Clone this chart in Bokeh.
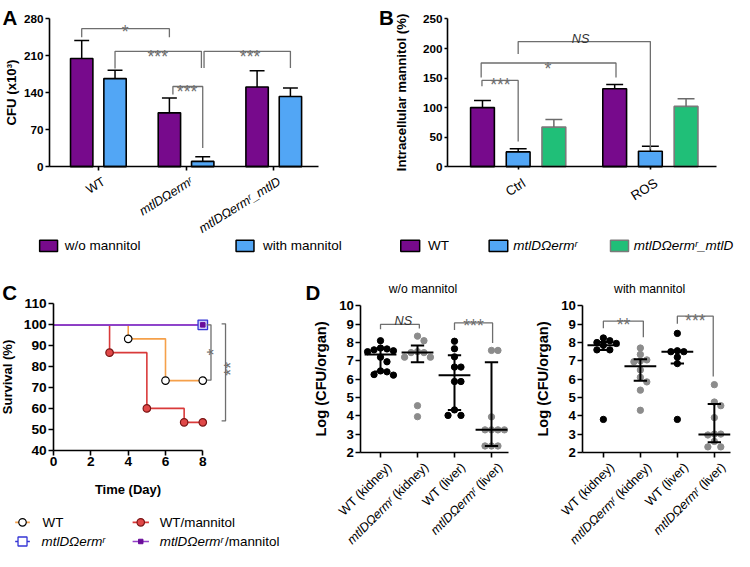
import math
import numpy as np
from bokeh.plotting import figure
from bokeh.models import Range1d, Label, FixedTicker, LinearAxis
from bokeh.layouts import row, column
from bokeh.embed import file_html
from bokeh.resources import INLINE

SX = 734 / 750
SY = 551 / 567
FS = 0.975
FONT = "Liberation Sans"
GRAY = "#6e6e6e"
PURPLE = "#770A8C"
BLUE = "#52A6F5"
GREEN = "#20BF78"
MUT = "mtlDΩermʳ"

# ---------------- data ----------------
strainsA = ["WT", "mtlDΩermʳ", "mtlDΩermʳ_mtlD"]
cfu_wo = [205, 102, 151]
cfu_wo_err = [34, 28, 31]
cfu_with = [167, 10, 133]
cfu_with_err = [16, 9, 16]

condsB = ["Ctrl", "ROS"]
mann_wt = [100, 132]
mann_wt_err = [12, 7]
mann_mut = [25, 26]
mann_mut_err = [5.5, 8.5]
mann_comp = [67, 102]
mann_comp_err = [13, 13]

days_wt = [0, 4, 6, 8]
surv_wt = [100, 93.3, 73.3, 73.3]
days_wtm = [0, 3, 5, 7, 8]
surv_wtm = [100, 86.7, 60, 53.3, 53.3]
days_mut = [0, 8]
surv_mut = [100, 100]
days_mutm = [0, 8]
surv_mutm = [100, 100]

groupsD = ["WT (kidney)", "mtlDΩermʳ (kidney)", "WT (liver)", "mtlDΩermʳ (liver)"]
d_wo = [
    [8.1, 7.7, 7.65, 7.6, 7.55, 7.5, 7.2, 6.95, 6.45, 6.4, 6.25, 6.22],
    [8.35, 8.1, 7.5, 7.45, 7.45, 7.2, 7.2, 4.55, 3.95],
    [8.07, 7.66, 7.22, 6.66, 6.66, 5.87, 5.87, 4.32, 4.02, 4.02],
    [7.57, 7.57, 3.94, 3.23, 3.23, 3.23, 3.23, 2.35, 2.35, 2.35],
]
d_wo_med = [7.35, 7.45, 6.22, 3.23]
d_wo_q1 = [6.42, 6.92, 4.32, 2.35]
d_wo_q3 = [7.66, 7.84, 7.31, 6.92]
d_with = [
    [8.25, 8.1, 8.0, 7.95, 7.85, 7.6, 7.6, 3.8],
    [7.7, 7.35, 7.05, 7.0, 6.95, 6.5, 6.1, 5.85, 5.4, 4.3],
    [8.5, 7.55, 7.5, 7.5, 7.2, 6.85, 3.8],
    [5.7, 4.75, 4.55, 3.9, 3.0, 3.0, 2.95, 2.6, 2.3, 2.3],
]
d_with_med = [7.85, 6.7, 7.5, 2.97]
d_with_q1 = [7.59, 5.91, 6.85, 2.56]
d_with_q3 = [8.03, 7.09, 7.55, 4.64]


# ---------------- helpers ----------------
class Panel:
    """A figure whose frame fills the whole canvas; the axes sit at fixed
    locations so that all surrounding texts live inside the frame."""

    def __init__(self, ox, oy, w, h, fl, fr, ft, fb, xr, yr):
        self.fl, self.fr, self.ft, self.fb = fl, fr, ft, fb
        self.xr, self.yr = xr, yr
        x0 = self.dx(ox / SX)
        x1 = self.dx((ox + w) / SX)
        ytop = self.dy(oy / SY)
        ybot = self.dy((oy + h) / SY)
        self.p = figure(width=w, height=h, x_range=Range1d(x0, x1), y_range=Range1d(ybot, ytop),
                        output_backend="svg", toolbar_location=None,
                        x_axis_location=None, y_axis_location=None,
                        min_border_left=0, min_border_right=0,
                        min_border_top=0, min_border_bottom=0)
        p = self.p
        p.outline_line_color = None
        for g in p.grid:
            g.visible = False
        p.background_fill_color = "white"
        p.border_fill_color = "white"

    def dx(self, rx):
        return self.xr[0] + (rx - self.fl) / (self.fr - self.fl) * (self.xr[1] - self.xr[0])

    def dy(self, ry):
        return self.yr[1] - (ry - self.ft) / (self.fb - self.ft) * (self.yr[1] - self.yr[0])

    def axes(self, xticks, yticks, tick_size, label_size, tick_out=4, lab_standoff=3,
             xbounds=None, ybounds=None, xlabel=None, ylabel=None, x_lab_standoff=None, hide_x=False):
        xb = xbounds if xbounds is not None else self.xr
        yb = ybounds if ybounds is not None else self.yr
        xa = LinearAxis(fixed_location=self.yr[0], bounds=xb, ticker=FixedTicker(ticks=xticks))
        ya = LinearAxis(fixed_location=self.xr[0], bounds=yb, ticker=FixedTicker(ticks=yticks))
        for ax in (xa, ya):
            ax.axis_line_width = 1.6
            ax.axis_line_color = "black"
            ax.major_tick_line_width = 1.6
            ax.major_tick_line_color = "black"
            ax.major_tick_in = 0
            ax.major_tick_out = tick_out
            ax.minor_tick_line_color = None
            ax.major_label_text_font = FONT
            ax.major_label_text_font_style = "bold"
            ax.major_label_text_font_size = f"{tick_size * FS:.1f}px"
            ax.major_label_text_color = "black"
            ax.axis_label_text_font = FONT
            ax.axis_label_text_font_style = "bold"
            ax.axis_label_text_font_size = f"{label_size * FS:.1f}px"
            ax.axis_label_text_color = "black"
            ax.major_label_standoff = 2
            ax.axis_label_standoff = lab_standoff
        if hide_x:
            xa.major_label_overrides = {t: "" for t in xticks}
        if xlabel:
            xa.axis_label = xlabel
        if ylabel:
            ya.axis_label = ylabel
        if x_lab_standoff is not None:
            xa.axis_label_standoff = x_lab_standoff
        self.p.add_layout(xa, "below")
        self.p.add_layout(ya, "left")


def txt(P, rx, ry, text, size, style="normal", align="center", baseline="middle",
        angle=0.0, color="black", x=None, y=None, xo=0.0, yo=0.0):
    P.p.add_layout(Label(
        x=P.dx(rx) if x is None else x,
        y=P.dy(ry) if y is None else y,
        x_offset=xo, y_offset=yo,
        text=text, text_font=FONT, text_font_size=f"{size * FS:.1f}px",
        text_font_style=style, text_align=align, text_baseline=baseline,
        angle=math.radians(angle), angle_units="rad", text_color=color))


def star(P, rx, ry, text, size=18, color=GRAY):
    # ry = visual centre of the asterisks
    txt(P, rx, ry + 0.575 * size, text, size, baseline="alphabetic", color=color)


def caps(P, rx, ry, text, size, style="normal", color="black", align="center"):
    txt(P, rx, ry + 0.36 * size, text, size, style=style, baseline="alphabetic", color=color, align=align)


def bracket(p, x1, x2, top, l1, l2):
    p.line(x=[x1, x1, x2, x2], y=[l1, top, top, l2], line_color=GRAY, line_width=1.3)


def errbars(p, xs, tops, errs, half, color="black"):
    xs = np.asarray(xs, float)
    tops = np.asarray(tops, float)
    ends = tops + np.asarray(errs, float)
    p.segment(x0=xs, y0=tops, x1=xs, y1=ends, line_color=color, line_width=1.5)
    p.segment(x0=xs - half, y0=ends, x1=xs + half, y1=ends, line_color=color, line_width=1.5)


def swatch(P, l, r, t, b, fill, edge="black"):
    P.p.quad(left=[P.dx(l)], right=[P.dx(r)], top=[P.dy(t)], bottom=[P.dy(b)],
             fill_color=fill, line_color=edge, line_width=1.5)


SW_T, SW_B, LY = 246.7, 258.3, 252.5

# ---------------- Panel A ----------------
PA = Panel(0, 0, 362, 259, 50, 325, 19, 171, (-0.558, 2.511), (0, 280))
p = PA.p
xa = np.arange(len(strainsA))
p.vbar(x=xa - 0.19, top=cfu_wo, width=0.255, fill_color=PURPLE, line_color="black", line_width=1.6)
p.vbar(x=xa + 0.19, top=cfu_with, width=0.255, fill_color=BLUE, line_color="black", line_width=1.6)
errbars(p, xa - 0.19, cfu_wo, cfu_wo_err, 0.085)
errbars(p, xa + 0.19, cfu_with, cfu_with_err, 0.085)
PA.axes(list(xa), [0, 70, 140, 210, 280], 12, 13.5, tick_out=4, lab_standoff=2,
        ylabel="CFU (x10³)", hide_x=True)
for b in [(-0.19, 0.81, 261.6, 245.5, 245.5), (0.19, 1.175, 218.6, 186, 187),
          (1.205, 2.19, 218.6, 187, 187), (0.85, 1.19, 152, 137, 35.6)]:
    bracket(p, *b)
star(PA, 127.3, 22.5, "*")
star(PA, 160.7, 47.8, "***")
star(PA, 255, 47.8, "***")
star(PA, 190.7, 83.3, "***")
for i, name in enumerate(strainsA):
    txt(PA, 0, 0, name, 13, style="normal" if i == 0 else "italic", align="right", baseline="top",
        angle=32, x=float(i), y=PA.dy(179), xo=2)
caps(PA, 2, 9.5, "A", 21, style="bold", align="left")
swatch(PA, 40, 58.3, SW_T, SW_B, PURPLE)
swatch(PA, 240.7, 259, SW_T, SW_B, BLUE)
txt(PA, 65.7, LY, "w/o mannitol", 13.8, align="left")
txt(PA, 268.3, LY, "with mannitol", 13.8, align="left")

# ---------------- Panel B ----------------
PB = Panel(362, 0, 372, 259, 456.7, 731.7, 19, 171, (-0.535, 1.501), (0, 250))
p = PB.p
xb = np.arange(len(condsB))
p.vbar(x=xb - 0.27, top=mann_wt, width=0.18, fill_color=PURPLE, line_color="black", line_width=1.6)
p.vbar(x=xb, top=mann_mut, width=0.18, fill_color=BLUE, line_color="black", line_width=1.6)
p.vbar(x=xb + 0.27, top=mann_comp, width=0.18, fill_color=GREEN, line_color="#7a7a7a", line_width=1.6)
errbars(p, xb - 0.27, mann_wt, mann_wt_err, 0.064)
errbars(p, xb, mann_mut, mann_mut_err, 0.064)
errbars(p, xb + 0.27, mann_comp, mann_comp_err, 0.064, color="#6b6b6b")
PB.axes(list(xb), [0, 50, 100, 150, 200, 250], 12, 13.5, tick_out=3, lab_standoff=11,
        ylabel="Intracellular mannitol (%)", hide_x=True)
for b in [(-0.28, 0.74, 175.5, 151, 151), (-0.274, 0.0, 146, 136, 42.8), (0.0, 1.0, 211.7, 190.8, 29)]:
    bracket(p, *b)
star(PB, 510.8, 76.7, "***")
star(PB, 559.3, 60, "*")
caps(PB, 592.7, 35, "NS", 13, style="italic", color="#333333")
for i, name in enumerate(condsB):
    txt(PB, 0, 0, name, 13.5, align="right", baseline="top", angle=32, x=float(i), y=PB.dy(180), xo=2)
caps(PB, 386.7, 9.5, "B", 21, style="bold", align="left")
swatch(PB, 409, 428.3, SW_T, SW_B, PURPLE)
swatch(PB, 499.3, 518.3, SW_T, SW_B, BLUE)
swatch(PB, 623.3, 641.7, SW_T, SW_B, GREEN, edge="#7a7a7a")
txt(PB, 436.7, LY, "WT", 13.8, align="left")
txt(PB, 524, LY, MUT, 13.8, style="italic", align="left")
txt(PB, 647, LY, "mtlDΩermʳ_mtlD", 13.8, style="italic", align="left")

# ---------------- Panel C ----------------
PC = Panel(0, 259, 284, 292, 54.3, 244.8, 312.3, 462.7, (0, 10.0), (40, 110))
p = PC.p
ORANGE, RED, SQBLUE, LPURPLE = "#F5A04A", "#D93A3A", "#3535D5", "#9440C8"
p.step(days_wt, surv_wt, mode="after", line_color=ORANGE, line_width=1.6)
p.step(days_wtm, surv_wtm, mode="after", line_color=RED, line_width=1.6)
p.step(days_mut, surv_mut, mode="after", line_color=SQBLUE, line_width=1.6)
p.step(days_mutm, surv_mutm, mode="after", line_color=LPURPLE, line_width=1.6)
p.scatter(days_wt[1:], surv_wt[1:], marker="circle", size=7.5, fill_color="white", line_color="black", line_width=1.2)
p.scatter(days_wtm[1:], surv_wtm[1:], marker="circle", size=7.5, fill_color="#E04848", line_color="#7a1515", line_width=1.2)
p.scatter(days_mut[1:], surv_mut[1:], marker="square", size=9.5, fill_color="#CFCBF7", line_color=SQBLUE, line_width=1.3)
p.scatter(days_mutm[1:], surv_mutm[1:], marker="square", size=4.5, fill_color="#6A0D9A", line_color="#6A0D9A")
PC.axes([0, 2, 4, 6, 8], [40, 50, 60, 70, 80, 90, 100, 110], 14, 13.3, tick_out=5, lab_standoff=6,
        xbounds=(0, 8), xlabel="Time (Day)", ylabel="Survival (%)", x_lab_standoff=12)
for (x0, x1, yt, yb) in [(8.21, 8.44, 100, 73.5), (9.01, 9.22, 100.5, 54)]:
    p.line(x=[x0, x1, x1, x0], y=[yt, yt, yb, yb], line_color=GRAY, line_width=1.3)
txt(PC, 218, 361.7, "*", 18, angle=90, color=GRAY)
txt(PC, 235.5, 379, "**", 18, angle=90, color=GRAY)
caps(PC, 1.7, 292.5, "C", 21, style="bold", align="left")

# legend of C
r1, r2 = 537, 556.7
p.line(x=[PC.dx(15), PC.dx(30)], y=[PC.dy(r1)] * 2, line_color=ORANGE, line_width=1.6)
p.scatter([PC.dx(22.5)], [PC.dy(r1)], marker="circle", size=7.5, fill_color="white", line_color="black", line_width=1.2)
p.line(x=[PC.dx(135), PC.dx(151.7)], y=[PC.dy(r1)] * 2, line_color=RED, line_width=1.6)
p.scatter([PC.dx(143.3)], [PC.dy(r1)], marker="circle", size=7.5, fill_color="#E04848", line_color="#7a1515", line_width=1.2)
p.line(x=[PC.dx(15), PC.dx(30)], y=[PC.dy(r2)] * 2, line_color=SQBLUE, line_width=1.6)
p.scatter([PC.dx(22.5)], [PC.dy(r2)], marker="square", size=9, fill_color="white", line_color=SQBLUE, line_width=1.3)
p.line(x=[PC.dx(135), PC.dx(151.7)], y=[PC.dy(r2)] * 2, line_color=LPURPLE, line_width=1.6)
p.scatter([PC.dx(143.3)], [PC.dy(r2)], marker="square", size=4.5, fill_color="#6A0D9A", line_color="#6A0D9A")
txt(PC, 43, r1, "WT", 13.7, align="left")
txt(PC, 162.7, r1, "WT/mannitol", 13.7, align="left")
txt(PC, 42, r2, MUT, 13.7, style="italic", align="left")
txt(PC, 162.7, r2, MUT, 13.7, style="italic", align="left")
txt(PC, 229.5, r2, "/mannitol", 13.7, align="left")

# ---------------- Panel D ----------------
PXX = 37.8 * SX
PXY = 18.83 * SY
DOT = 6.5 * FS


def swarm(vals, xc):
    step = DOT * 1.02 / PXX
    offs = [0]
    for j in range(1, 12):
        offs += [j, -j]
    placed = []
    xs = [0.0] * len(vals)
    order = sorted(range(len(vals)), key=lambda k: -vals[k])
    for k in order:
        v = vals[k]
        x = xc
        for o in offs:
            x = xc + o * step
            if all(((x - a) * PXX) ** 2 + ((v - b) * PXY) ** 2 >= (DOT * 0.97) ** 2 for a, b in placed):
                break
        placed.append((x, v))
        xs[k] = x
    return xs


EM_KID = 3.834
EM_LIV = 2.777
DLAB = 13.0


def draw_d(P, data, med, q1, q3, title, title_rx):
    p = P.p
    for i, vals in enumerate(data):
        xs = swarm(vals, float(i))
        col = "black" if i % 2 == 0 else "#8c8c8c"
        p.scatter(xs, vals, marker="circle", size=DOT, fill_color=col, line_color=col)
    xi = np.arange(len(data), dtype=float)
    q1a, q3a, meda = np.asarray(q1), np.asarray(q3), np.asarray(med)
    p.segment(x0=xi, y0=q1a, x1=xi, y1=q3a, line_color="black", line_width=2)
    p.segment(x0=xi - 0.18, y0=q1a, x1=xi + 0.18, y1=q1a, line_color="black", line_width=2)
    p.segment(x0=xi - 0.18, y0=q3a, x1=xi + 0.18, y1=q3a, line_color="black", line_width=2)
    p.segment(x0=xi - 0.43, y0=meda, x1=xi + 0.43, y1=meda, line_color="black", line_width=2)
    P.axes(list(range(len(data))), list(range(2, 11)), 13.5, 15, tick_out=5, lab_standoff=7,
           ylabel="Log (CFU/organ)", hide_x=True)
    ya = P.dy(465 + 8)
    c45 = 0.7071
    for i, name in enumerate(groupsD):
        if name.startswith(MUT):
            rest = name[len(MUT) + 1:]
            em = EM_KID if "kidney" in rest else EM_LIV
            w = em * DLAB * FS
            txt(P, 0, 0, rest, DLAB, align="right", baseline="top", angle=45, x=float(i), y=ya, xo=4)
            txt(P, 0, 0, MUT, DLAB, style="italic", align="right", baseline="top", angle=45,
                x=float(i), y=ya, xo=4 - w * c45, yo=-w * c45)
        else:
            txt(P, 0, 0, name, DLAB, align="right", baseline="top", angle=45, x=float(i), y=ya, xo=4)
    txt(P, title_rx, 296.7, title, 12.5)


PD1 = Panel(284, 259, 249, 292, 368.3, 519, 314.3, 465, (-0.529, 3.458), (2, 10))
draw_d(PD1, d_wo, d_wo_med, d_wo_q1, d_wo_q3, "w/o mannitol", 431.7)
bracket(PD1.p, 0, 1.05, 8.99, 8.72, 8.77)
bracket(PD1.p, 2.0, 3.03, 9.07, 8.68, 7.98)
caps(PD1, 411.7, 325, "NS", 13, style="italic", color="#333333")
star(PD1, 483.3, 325, "***")
caps(PD1, 311.7, 293.3, "D", 21, style="bold", align="left")

PD2 = Panel(533, 259, 201, 292, 595, 746, 314.3, 465, (-0.556, 3.439), (2, 10))
draw_d(PD2, d_with, d_with_med, d_with_q1, d_with_q3, "with mannitol", 663.3)
bracket(PD2.p, 0, 1.08, 9.17, 8.78, 8.29)
bracket(PD2.p, 2.0, 2.97, 9.44, 9.03, 6.14)
star(PD2, 636.7, 323.3, "**")
star(PD2, 710, 319, "***")

layout = column(
    row(PA.p, PB.p, spacing=0),
    row(PC.p, PD1.p, PD2.p, spacing=0),
    spacing=0,
)

open("out.html", "w").write(file_html(layout, INLINE))
